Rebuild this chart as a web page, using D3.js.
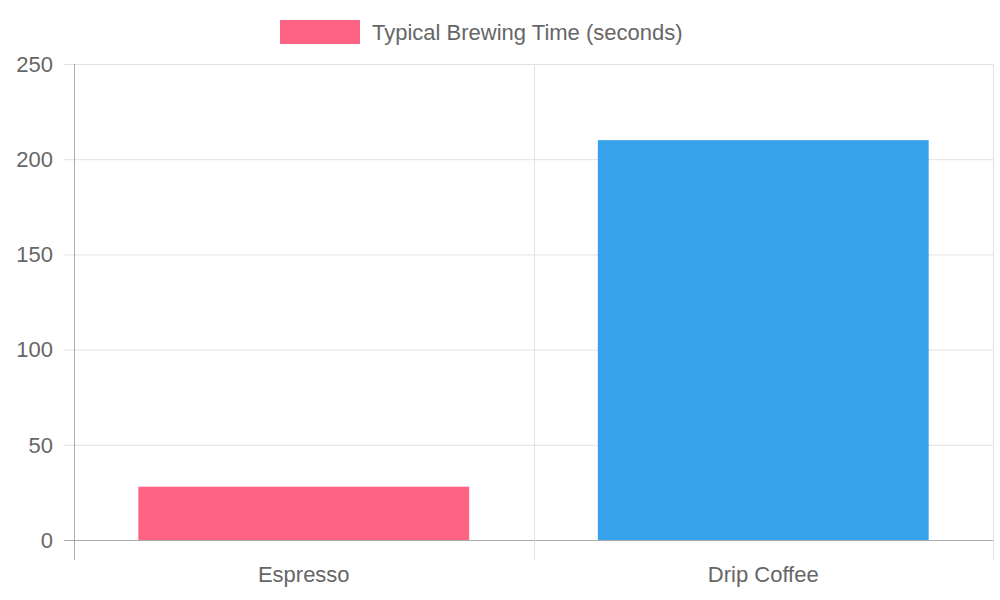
<!DOCTYPE html>
<html><head><meta charset="utf-8">
<script src="https://cdn.jsdelivr.net/npm/d3@7"></script>
<style>body{margin:0;background:#fff}svg{display:block}</style>
</head><body><svg id="c" width="1000" height="600"></svg>
<script>
const categories = ["Espresso", "Drip Coffee"];
const values = [28, 210];
const colors = ["#ff6384", "#36a2eb"];
const yTicks = [0, 50, 100, 150, 200, 250];
const seriesLabel = "Typical Brewing Time (seconds)";

const svg = d3.select("#c");
const L = 74, R = 993, T = 64, B = 540;
const font = "'Liberation Sans', Arial, sans-serif";
const x = d3.scaleBand().domain(categories).range([L, R]).paddingInner(0).paddingOuter(0);
const y = d3.scaleLinear().domain([0, 250]).range([B, T]);

// horizontal grid
svg.append("g").selectAll("line").data(yTicks).join("line")
  .attr("x1", L - 10).attr("x2", R).attr("y1", d => y(d) + 0.5).attr("y2", d => y(d) + 0.5)
  .attr("stroke", d => d === 0 ? "#aaa" : "#e1e1e1").attr("stroke-width", 1);
// vertical grid
const vx = [L, x(categories[1]), R];
svg.append("g").selectAll("line").data(vx).join("line")
  .attr("x1", d => Math.round(d) + 0.5).attr("x2", d => Math.round(d) + 0.5)
  .attr("y1", T).attr("y2", B + 20)
  .attr("stroke", (d, i) => i === 0 ? "#aaa" : "#e1e1e1");

// bars
const bw = x.bandwidth() * 0.72;
svg.append("g").selectAll("rect").data(values).join("rect")
  .attr("x", (d, i) => x(categories[i]) + (x.bandwidth() - bw) / 2)
  .attr("width", bw)
  .attr("y", d => y(d)).attr("height", d => B - y(d))
  .attr("fill", (d, i) => colors[i]);

// y labels
svg.append("g").selectAll("text").data(yTicks).join("text")
  .attr("x", 53).attr("y", d => y(d)).attr("dy", "0.35em").attr("text-anchor", "end")
  .attr("font-family", font).attr("font-size", 22).attr("fill", "#666").text(d => d);
// x labels
svg.append("g").selectAll("text").data(categories).join("text")
  .attr("x", d => x(d) + x.bandwidth() / 2).attr("y", 582).attr("text-anchor", "middle")
  .attr("font-family", font).attr("font-size", 22).attr("fill", "#666").text(d => d);

// legend
svg.append("rect").attr("x", 280).attr("y", 20).attr("width", 80).attr("height", 24).attr("fill", colors[0]);
svg.append("text").attr("x", 372).attr("y", 40).attr("font-family", font).attr("font-size", 22)
  .attr("fill", "#666").text(seriesLabel);
</script></body></html>
